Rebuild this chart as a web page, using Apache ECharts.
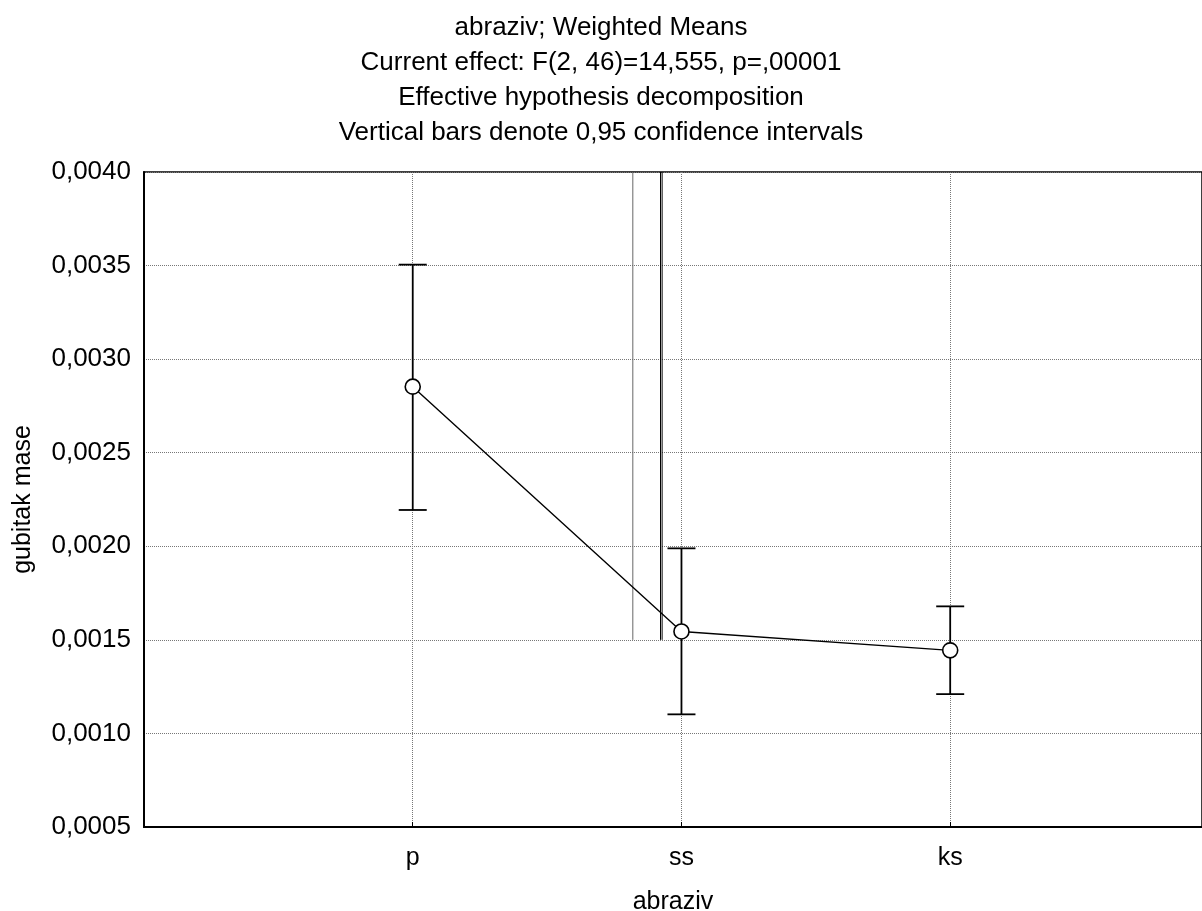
<!DOCTYPE html>
<html>
<head>
<meta charset="utf-8">
<script src="https://cdn.jsdelivr.net/npm/echarts@6/dist/echarts.min.js"></script>
<style>
html,body{margin:0;padding:0;background:#fff;}
#chart{width:1202px;height:911px;}
</style>
</head>
<body>
<div id="chart"></div>
<script>
const categories = ['p', 'ss', 'ks'];
const catPositions = [1, 2, 3];
const means = [0.002853, 0.001545, 0.001444];
const upper = [0.003505, 0.001989, 0.001679];
const lower = [0.002194, 0.001102, 0.001210];
const yTicks = [0.0005, 0.0010, 0.0015, 0.0020, 0.0025, 0.0030, 0.0035, 0.0040];
const titleLines = [
  'abraziv; Weighted Means',
  'Current effect: F(2, 46)=14,555, p=,00001',
  'Effective hypothesis decomposition',
  'Vertical bars denote 0,95 confidence intervals'
];
// stray vertical lines seen in the reference near "ss"
const strayX = [1.819, 1.922, 1.928];
const strayColor = ['#666666', '#000000', '#000000'];
const strayRange = [0.0015, 0.0040];

const FONT = 'Liberation Sans';
const chart = echarts.init(document.getElementById('chart'));

const strayData = strayX.map((x, i) => [x, strayRange[0], i]);

chart.setOption({
  animation: false,
  backgroundColor: '#ffffff',
  title: {
    text: titleLines.join('\n'),
    left: 'center',
    top: 5,
    textStyle: { fontFamily: FONT, fontSize: 26, fontWeight: 'normal', color: '#000', lineHeight: 35 }
  },
  grid: { left: 144, top: 172, width: 1058, height: 655, show: true, borderColor: '#000', borderWidth: 1.5, backgroundColor: 'transparent', containLabel: false, outerBoundsMode: 'none' },
  xAxis: {
    type: 'value',
    min: 0, max: 3.937, interval: 1,
    name: 'abraziv',
    nameLocation: 'middle',
    nameGap: 63,
    nameTextStyle: { fontFamily: FONT, fontSize: 25, color: '#000' },
    axisLine: { show: true, lineStyle: { color: '#000', width: 2 } },
    axisTick: { show: true, inside: true, length: 5, lineStyle: { color: '#000' } },
    axisLabel: {
      fontFamily: FONT, fontSize: 25, color: '#000', margin: 19,
      formatter: v => { const r = Math.round(v); const i = catPositions.indexOf(r); return (Math.abs(v - r) < 1e-9 && i >= 0) ? categories[i] : ''; }
    },
    splitLine: { show: true, lineStyle: { color: '#777', type: [1, 1], width: 1 } }
  },
  yAxis: {
    type: 'value',
    min: 0.0005, max: 0.0040, interval: 0.0005,
    name: 'gubitak mase',
    nameLocation: 'middle',
    nameGap: 108,
    nameRotate: 90,
    nameTextStyle: { fontFamily: FONT, fontSize: 25, color: '#000' },
    axisLine: { show: true, lineStyle: { color: '#000', width: 2 } },
    axisTick: { show: false },
    axisLabel: { fontFamily: FONT, fontSize: 26, color: '#000', margin: 13, formatter: v => v.toFixed(4).replace('.', ',') },
    splitLine: { show: true, lineStyle: { color: '#777', type: [1, 1], width: 1 } }
  },
  series: [
    {
      type: 'custom',
      name: 'stray',
      data: strayData,
      z: 1,
      renderItem: (params, api) => {
        const x = api.value(0);
        const p0 = api.coord([x, api.value(1)]);
        const p1 = api.coord([x, strayRange[1]]);
        return { type: 'line', shape: { x1: p0[0], y1: p0[1], x2: p1[0], y2: p1[1] }, style: { stroke: strayColor[api.value(2)], lineWidth: 1 } };
      }
    },
    {
      type: 'custom',
      name: 'ci',
      data: catPositions.map((x, i) => [x, lower[i], upper[i]]),
      z: 3,
      renderItem: (params, api) => {
        const x = api.value(0);
        const lo = api.coord([x, api.value(1)]);
        const hi = api.coord([x, api.value(2)]);
        const hw = 14;
        const st = { stroke: '#000', lineWidth: 1.8 };
        return { type: 'group', children: [
          { type: 'line', shape: { x1: lo[0], y1: lo[1], x2: hi[0], y2: hi[1] }, style: st },
          { type: 'line', shape: { x1: lo[0] - hw, y1: lo[1], x2: lo[0] + hw, y2: lo[1] }, style: st },
          { type: 'line', shape: { x1: hi[0] - hw, y1: hi[1], x2: hi[0] + hw, y2: hi[1] }, style: st }
        ]};
      }
    },
    {
      type: 'line',
      name: 'mean',
      data: catPositions.map((x, i) => [x, means[i]]),
      z: 5,
      symbol: 'circle',
      symbolSize: 15,
      showAllSymbol: true,
      lineStyle: { color: '#000', width: 1.4 },
      itemStyle: { color: '#fff', borderColor: '#000', borderWidth: 1.6 }
    }
  ]
});
</script>
</body>
</html>
